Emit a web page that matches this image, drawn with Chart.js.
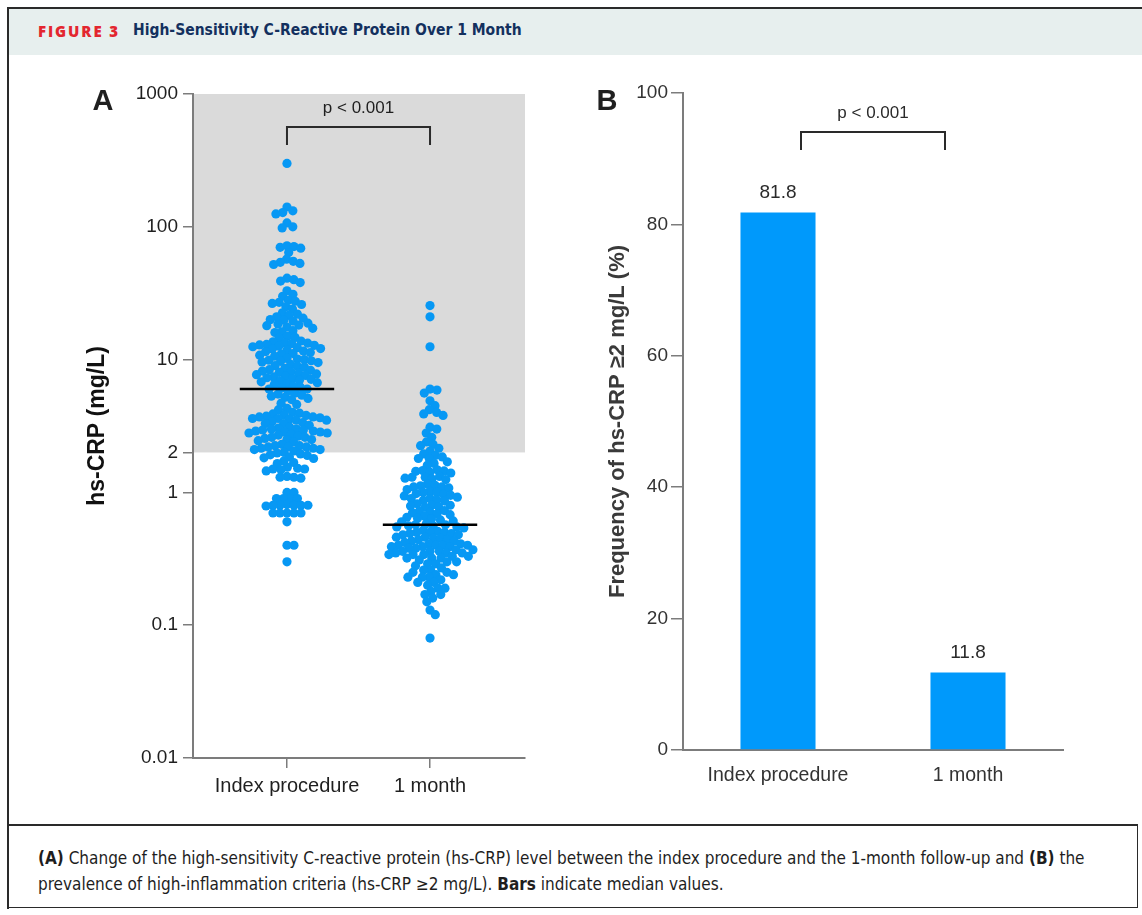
<!DOCTYPE html>
<html>
<head>
<meta charset="utf-8">
<script src="https://cdn.jsdelivr.net/npm/chart.js@4.4.0/dist/chart.umd.min.js"></script>
<style>
  body { margin: 0; background: #fff; width: 1142px; height: 915px; position: relative; overflow: hidden; }
  #frameTop { position: absolute; left: 7px; top: 7px; width: 1135px; height: 2px; background: #2a2a2a; }
  #frameLeft { position: absolute; left: 7px; top: 7px; width: 2px; height: 902px; background: #2a2a2a; }
  #header { position: absolute; left: 9px; top: 9px; width: 1133px; height: 46px; background: #e7efee;
            font-family: 'DejaVu Sans Condensed', 'Liberation Sans Narrow', sans-serif; }
  #header .fig { position: absolute; left: 29px; top: 12px; color: #e3262f; font-family: 'Open Sans', sans-serif;
                 font-weight: 800; font-size: 15px; letter-spacing: 1.9px; }
  #header .ttl { position: absolute; left: 124px; top: 12px; color: #13305e; font-weight: bold; font-size: 15.5px; }
  #caption { position: absolute; left: 7px; top: 824px; width: 1131px; height: 84px; border-top: 2px solid #2a2a2a;
             border-left: 2px solid #2a2a2a; border-right: 1px solid #2a2a2a; border-bottom: 1px solid #2a2a2a;
             font-family: 'DejaVu Sans Condensed', 'Liberation Sans Narrow', sans-serif; font-size: 17px; color: #1e1e1e;
             line-height: 26px; box-sizing: border-box; padding: 19px 0 0 29px; }
  canvas { position: absolute; }
</style>
</head>
<body>
<div id="frameTop"></div>
<div id="frameLeft"></div>
<div id="header"><span class="fig">FIGURE 3</span><span class="ttl">High-Sensitivity C-Reactive Protein Over 1 Month</span></div>
<canvas id="chartA" width="560" height="760" style="left:0;top:60px"></canvas>
<canvas id="chartB" width="582" height="760" style="left:560px;top:60px"></canvas>
<div id="caption"><b>(A)</b> Change of the high-sensitivity C-reactive protein (hs-CRP) level between the index procedure and the 1-month follow-up and <b>(B)</b> the<br>prevalence of high-inflammation criteria (hs-CRP &ge;2 mg/L). <b>Bars</b> indicate median values.</div>
<script>
// groups on both panels
const groups = ['Index procedure', '1 month'];

// panel A: hs-CRP per patient (mg/L), read row by row from the swarm
const indexValues = [
  300,
  141, 132, 128, 125,
  107, 100, 98,
  72, 71, 70, 69, 64,
  57, 55, 54, 53, 52,
  41, 40, 39, 38,
  33, 31, 30,
  28, 27.5, 27, 26.5, 26, 25,
  24,
  22.5, 22, 21.5, 21, 20.5, 20, 19.8, 19.5,
  18.8, 18.5, 18.2, 18, 17.6, 17.2,
  16.5, 16.2, 16,
  15, 14.7, 14.5,
  13.8, 13.6, 13.4, 13.3, 13.2, 13.0, 12.9, 12.8, 12.6, 12.5,
  12.3, 12.1, 12.0, 11.8, 11.6, 11.5,
  11.3, 11.1, 11.0, 10.8, 10.6,
  10.2, 10.1, 10.0, 9.9, 9.8, 9.7, 9.6, 9.5,
  9.2, 9.0, 8.9, 8.8, 8.6,
  8.4, 8.3, 8.2, 8.1, 8.0, 7.9, 7.8, 7.7, 7.6,
  7.5, 7.4, 7.3, 7.2, 7.1,
  7.0, 6.9, 6.8, 6.7, 6.6, 6.5,
  6.3, 6.2, 6.1, 6.0, 6.0,
  5.8, 5.6, 5.5, 5.4, 5.3, 5.2, 5.1, 5.0,
  4.7, 4.6,
  4.3, 4.2,
  4.0, 3.95, 3.9, 3.85, 3.8, 3.75, 3.7, 3.7, 3.65, 3.6, 3.6, 3.55, 3.5, 3.5,
  3.4, 3.35, 3.3, 3.3, 3.2,
  3.1, 3.05, 3.0, 3.0, 2.95, 2.95, 2.9, 2.9, 2.85, 2.85, 2.8, 2.8, 2.75, 2.7,
  2.65, 2.6, 2.6, 2.55, 2.5, 2.5, 2.45, 2.4,
  2.3, 2.25, 2.25, 2.2, 2.2, 2.2, 2.15, 2.15, 2.1, 2.1, 2.05, 2.0,
  1.98, 1.95, 1.92, 1.9,
  1.85, 1.82, 1.8,
  1.72, 1.68, 1.65,
  1.55, 1.52, 1.5, 1.5, 1.48, 1.45,
  1.32, 1.3, 1.3, 1.28,
  1.0, 1.0,
  0.9, 0.9, 0.9, 0.9,
  0.81, 0.8, 0.8, 0.8, 0.8, 0.8, 0.79,
  0.7, 0.7, 0.7, 0.7, 0.7,
  0.6,
  0.4, 0.4,
  0.3
];
const monthValues = [
  25.5, 21, 12.5,
  6.0, 5.9, 5.6,
  4.9, 4.5,
  4.2, 4.0, 3.9, 3.8,
  3.1, 3.0,
  2.8, 2.6,
  2.4, 2.3, 2.25,
  2.15, 2.05,
  1.95, 1.9, 1.85, 1.8, 1.8,
  1.7, 1.65, 1.6,
  1.48, 1.46, 1.45, 1.44, 1.42, 1.4,
  1.32, 1.3, 1.3, 1.28, 1.26, 1.25,
  1.15, 1.13, 1.12, 1.1, 1.1, 1.08, 1.05,
  1.02, 1.0, 1.0, 0.98, 0.97, 0.95, 0.94,
  0.92, 0.9, 0.9, 0.88, 0.87, 0.86,
  0.82, 0.8, 0.8, 0.79, 0.78, 0.77,
  0.73, 0.72, 0.71, 0.7, 0.69, 0.68,
  0.66, 0.65, 0.64, 0.63, 0.62, 0.61, 0.6,
  0.58, 0.57, 0.57, 0.56, 0.56, 0.55, 0.55, 0.54,
  0.52, 0.51, 0.5, 0.5, 0.5, 0.49, 0.49, 0.48, 0.48,
  0.46, 0.46, 0.45, 0.45, 0.44, 0.44, 0.43, 0.43,
  0.42, 0.41, 0.41, 0.4, 0.4, 0.4, 0.4, 0.39, 0.39, 0.39, 0.38, 0.38,
  0.37, 0.37, 0.36, 0.36, 0.36, 0.35, 0.35, 0.35, 0.34, 0.34,
  0.34, 0.33, 0.33, 0.32, 0.32, 0.32, 0.31,
  0.3, 0.3, 0.29, 0.29, 0.28,
  0.27, 0.26, 0.26, 0.25, 0.25,
  0.24, 0.24, 0.23, 0.23, 0.23,
  0.22, 0.21, 0.21, 0.2,
  0.19, 0.19, 0.18,
  0.17, 0.17, 0.16,
  0.15, 0.13, 0.12, 0.08
];
const medians = [6.0, 0.57];
const logTicks = [0.01, 0.1, 1, 2, 10, 100, 1000];
const threshold = 2;

// panel B: % of patients with hs-CRP >= 2 mg/L
const freqValues = [81.8, 11.8];
const freqTicks = [0, 20, 40, 60, 80, 100];
const pText = 'p < 0.001';

const BLUE = '#0798f4';
const AXIS = '#7c7c7c';
const INK = '#1f1f1f';
const DOT = 4.6;
const GAP = 7.0;      // centre distance allowed between swarm dots (they overlap a little)
const MED_HALF = 0.33;

Chart.defaults.font.family = "'Liberation Sans', Arial, sans-serif";
Chart.defaults.color = INK;

// grey zone for hs-CRP >= 2, bracket, panel letter
const panelA = {
  id: 'panelA',
  beforeDraw(chart) {
    const {ctx, chartArea: a, scales: {y}} = chart;
    ctx.save();
    ctx.fillStyle = '#dadada';
    const yt = y.getPixelForValue(threshold);
    ctx.fillRect(a.left, a.top, a.right - a.left, yt - a.top);
    ctx.restore();
  },
  afterDraw(chart) {
    const {ctx, chartArea: a, scales: {x}} = chart;
    const x0 = x.getPixelForValue(0), x1 = x.getPixelForValue(1);
    ctx.save();
    ctx.strokeStyle = '#2a2a2a';
    ctx.lineWidth = 2;
    ctx.beginPath();
    ctx.moveTo(x0, a.top + 51);
    ctx.lineTo(x0, a.top + 33);
    ctx.lineTo(x1, a.top + 33);
    ctx.lineTo(x1, a.top + 51);
    ctx.stroke();
    ctx.fillStyle = INK;
    ctx.textAlign = 'center';
    ctx.textBaseline = 'middle';
    ctx.font = "17px 'Liberation Sans', Arial, sans-serif";
    ctx.fillText(pText, (x0 + x1) / 2, a.top + 14);
    ctx.font = "bold 29px 'Liberation Sans', Arial, sans-serif";
    ctx.fillText('A', a.left - 90, a.top + 8);
    ctx.restore();
  }
};

const chartA = new Chart(document.getElementById('chartA'), {
  type: 'scatter',
  data: {
    datasets: [
      ...medians.map((m, i) => ({
        type: 'line', order: 0,
        data: [{x: i - MED_HALF, y: m}, {x: i + MED_HALF, y: m}],
        borderColor: '#000', borderWidth: 2.5, pointRadius: 0
      })),
      {order: 1, group: 0, data: indexValues.map(v => ({x: 0, y: v})),
       backgroundColor: BLUE, borderWidth: 0, pointRadius: DOT},
      {order: 1, group: 1, data: monthValues.map(v => ({x: 1, y: v})),
       backgroundColor: BLUE, borderWidth: 0, pointRadius: DOT}
    ]
  },
  options: {
    responsive: false,
    animation: false,
    events: [],
    layout: {padding: {left: 80, right: 35, top: 34, bottom: 12}},
    plugins: {legend: {display: false}, tooltip: {enabled: false}},
    scales: {
      x: {
        type: 'linear', min: -0.657, max: 1.664,
        afterBuildTicks: s => { s.ticks = groups.map((g, i) => ({value: i})); },
        afterFit: s => { s.height = 50; },
        ticks: {callback: v => groups[v], font: {size: 20}, color: INK, padding: 6, maxRotation: 0, autoSkip: false},
        grid: {drawOnChartArea: false, tickLength: 10, color: AXIS, lineWidth: 1.5},
        border: {color: AXIS, width: 2}
      },
      y: {
        type: 'logarithmic', min: 0.01, max: 1000,
        afterBuildTicks: s => { s.ticks = logTicks.map(v => ({value: v})); },
        afterFit: s => { s.width = 113; },
        ticks: {callback: v => String(v), font: {size: 19}, color: INK, padding: 5},
        grid: {drawOnChartArea: false, tickLength: 10, color: AXIS, lineWidth: 1.5},
        border: {color: AXIS, width: 2},
        title: {display: true, text: 'hs-CRP (mg/L)', font: {size: 23, weight: 'bold'}, color: '#111', padding: {top: 4, bottom: 0}}
      }
    }
  },
  plugins: [panelA]
});

// spread the dots sideways (beeswarm), using the chart's own scales
function swarm(chart) {
  const xs = chart.scales.x, ys = chart.scales.y;
  const unit = xs.getPixelForValue(1) - xs.getPixelForValue(0);
  const D = GAP;
  chart.data.datasets.forEach(ds => {
    if (ds.group === undefined) return;
    const placed = [];
    ds.data.slice().sort((a, b) => b.y - a.y).forEach(p => {
      const py = ys.getPixelForValue(p.y);
      const near = placed.filter(q => Math.abs(q.py - py) < D);
      const cands = [0];
      near.forEach(q => {
        const dx = Math.sqrt(D * D - (q.py - py) * (q.py - py));
        cands.push(q.px + dx, q.px - dx);
      });
      cands.sort((a, b) => Math.abs(a) - Math.abs(b));
      const px = cands.find(c => near.every(q => (q.px - c) ** 2 + (q.py - py) ** 2 >= D * D - 0.01));
      placed.push({px, py});
      p.x = ds.group + px / unit;
    });
  });
  chart.update('none');
}
swarm(chartA);

// bar labels, bracket, panel letter
const panelB = {
  id: 'panelB',
  afterDraw(chart) {
    const {ctx, chartArea: a} = chart;
    const bars = chart.getDatasetMeta(0).data;
    ctx.save();
    ctx.fillStyle = '#2a2a2a';
    ctx.textAlign = 'center';
    ctx.textBaseline = 'middle';
    ctx.font = "19px 'Liberation Sans', Arial, sans-serif";
    bars.forEach((b, i) => ctx.fillText(String(freqValues[i]), b.x, b.y - 20));
    const x0 = bars[0].x + 23, x1 = bars[1].x - 23;
    ctx.strokeStyle = '#2a2a2a';
    ctx.lineWidth = 2;
    ctx.beginPath();
    ctx.moveTo(x0, a.top + 57);
    ctx.lineTo(x0, a.top + 39);
    ctx.lineTo(x1, a.top + 39);
    ctx.lineTo(x1, a.top + 57);
    ctx.stroke();
    ctx.font = "17px 'Liberation Sans', Arial, sans-serif";
    ctx.fillText(pText, (x0 + x1) / 2, a.top + 20);
    ctx.fillStyle = INK;
    ctx.font = "bold 29px 'Liberation Sans', Arial, sans-serif";
    ctx.fillText('B', a.left - 76, a.top + 9);
    ctx.restore();
  }
};

new Chart(document.getElementById('chartB'), {
  type: 'bar',
  data: {
    labels: groups,
    datasets: [{data: freqValues, backgroundColor: '#0099fb', barPercentage: 0.395, categoryPercentage: 1}]
  },
  options: {
    responsive: false,
    animation: false,
    events: [],
    layout: {padding: {left: 38, right: 79, top: 33, bottom: 15}},
    plugins: {legend: {display: false}, tooltip: {enabled: false}},
    scales: {
      x: {
        afterFit: s => { s.height = 55; },
        ticks: {font: {size: 19.5}, color: '#333', padding: 14},
        grid: {drawOnChartArea: false, drawTicks: false},
        border: {color: AXIS, width: 2}
      },
      y: {
        min: 0, max: 100,
        afterBuildTicks: s => { s.ticks = freqTicks.map(v => ({value: v})); },
        afterFit: s => { s.width = 85; },
        ticks: {font: {size: 19}, color: '#333', padding: 3},
        grid: {drawOnChartArea: false, tickLength: 12, color: AXIS, lineWidth: 1.5},
        border: {color: AXIS, width: 2},
        title: {display: true, text: 'Frequency of hs-CRP \u22652 mg/L (%)', font: {size: 22, weight: 'bold'}, color: '#3a3a3a', padding: {top: 7, bottom: 0}}
      }
    }
  },
  plugins: [panelB]
});
</script>
</body>
</html>
